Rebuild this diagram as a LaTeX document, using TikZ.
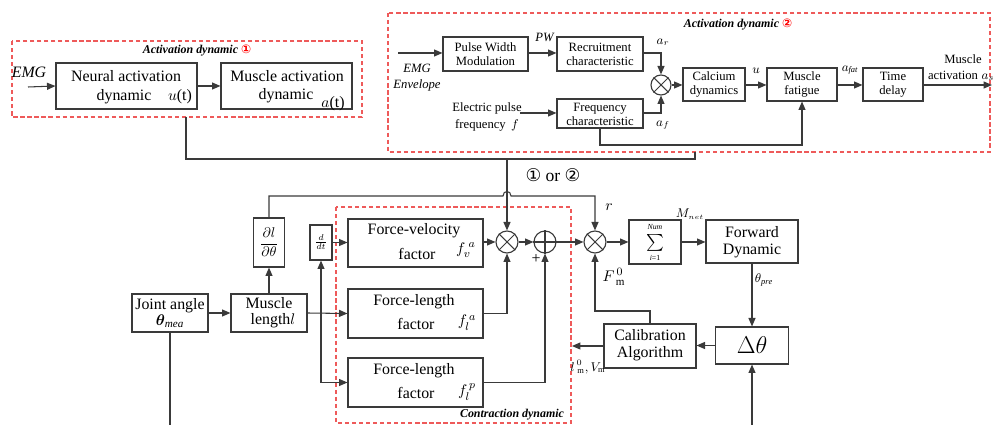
\documentclass[tikz,border=0pt]{standalone}
\usepackage{amsmath}
\usepackage{fontspec}
\setmainfont{Liberation Serif}
\newfontfamily\symfont{DejaVu Sans}
\usetikzlibrary{arrows.meta}
\definecolor{ln}{HTML}{3A3A3A}
\definecolor{dashred}{HTML}{EE5A5A}

\begin{document}
\begin{tikzpicture}[x=0.025cm,y=-0.025cm,
  line width=0.75pt, draw=ln,
  every node/.style={inner sep=0pt, text=black},
  sz/.style 2 args={minimum width=#1*0.025cm, minimum height=#2*0.025cm},
  blk/.style={draw=ln, line width=0.8pt, rectangle},
  mul/.style={circle, draw=ln, line width=0.8pt, minimum size=22*0.025cm},
  arr/.style={-{Triangle[length=6pt,width=5pt]}},
  region/.style={draw=dashred, line width=0.8pt, dash pattern=on 3pt off 2pt},
  big/.style={font=\fontsize{11.3}{12.3}\selectfont},
  small/.style={font=\fontsize{9}{10}\selectfont},
  ttl/.style={font=\fontsize{8.5}{9}\selectfont\bfseries\itshape},
  tiny/.style={font=\fontsize{5.5}{6}\selectfont}]
\useasboundingbox (0,0) rectangle (995,425);

% ---------- activation dynamic 1 ----------
\draw[region] (12,41) rectangle (362,117);
\node[ttl] at (197,51) {Activation dynamic {\symfont\color{red}①}};
\node[blk, sz={141}{46}] (neural) at (126.5,86) {};
\node[blk, sz={131}{46}] (macti) at (286.5,86) {};
\node[big] at (126,76) {Neural activation};
\node[big] at (124,97) {dynamic};
\node[big] at (180,97) {$u$(t)};
\node[big] at (287,76) {Muscle activation};
\node[big] at (286,96) {dynamic};
\node[big] at (333,104) {$a$(t)};
\node[big] at (29,72) {\textit{EMG}};
\coordinate (emgin) at (28,87);
\draw[arr] (emgin) -- (neural.west);
\draw[arr] (neural.east) -- (macti.west);

% ---------- activation dynamic 2 ----------
\draw[region] (388,13) rectangle (990,152);
\node[ttl] at (738,25) {Activation dynamic {\symfont\color{red}②}};
\node[blk, sz={85}{34}] (pwm) at (485.5,54) {};
\node[small, align=center] at (485.5,54) {Pulse Width\\Modulation};
\node[blk, sz={86}{34}] (recr) at (600,54) {};
\node[small, align=center] at (600,54) {Recruitment\\characteristic};
\node[blk, sz={86}{29}] (freq) at (600,113.5) {};
\node[small, align=center] at (600,114) {Frequency\\characteristic};
\node[mul, minimum size=20*0.025cm] (mt) at (661,85) {};
\draw (mt.north west) -- (mt.south east) (mt.north east) -- (mt.south west);
\node[blk, sz={62}{33}] (calc) at (714,84.5) {};
\node[small, align=center] at (714,84.5) {Calcium\\dynamics};
\node[blk, sz={70}{33}] (fatig) at (802,84.5) {};
\node[small, align=center] at (802,84.5) {Muscle\\fatigue};
\node[blk, sz={60}{33}] (tdel) at (893,84.5) {};
\node[small, align=center] at (893,84.5) {Time\\delay};

\node[small] at (417,68) {\textit{EMG}};
\node[small] at (417,85) {\textit{Envelope}};
\node[small] at (545,37) {\textit{PW}};
\node[small] at (663,42) {$a_r$};
\node[small] at (663,125) {$a_f$};
\node[small] at (756,71) {$u$};
\node[small] at (850,70) {$a_{\mathit{fat}}$};
\node[small] at (487,108) {Electric pulse};
\node[small] at (487,125) {frequency \,$f$};
\node[small] at (963,59) {Muscle};
\node[small] at (953,75) {activation};
\node[small] at (988,77) {$a_s$};

\coordinate (emgenv) at (398,53);
\coordinate (fin) at (520,113);
\coordinate (actout) at (992,85);
\coordinate (fq1) at (600,145);
\draw[arr] (emgenv) -- (pwm.west |- emgenv);
\draw[arr] (pwm.east |- emgenv) -- (recr.west |- emgenv);
\draw[arr] (recr.east |- emgenv) -| (mt.north);
\draw[arr] (fin) -- (freq.west |- fin);
\draw[arr] (freq.east |- fin) -| (mt.south);
\draw[arr] (mt.east) -- (calc.west |- mt.east);
\draw[arr] (calc.east |- mt.east) -- (fatig.west |- mt.east);
\draw[arr] (fatig.east |- mt.east) -- (tdel.west |- mt.east);
\draw[arr] (tdel.east |- mt.east) -- (actout);
\draw[arr] (freq.south) -- (fq1) -| (fatig.south);

% ---------- selector lines ----------
\coordinate (o1) at (186,117);
\coordinate (o2) at (695,152);
\coordinate (jn) at (507,159);
\node[font=\fontsize{12.5}{13}\selectfont] at (553,175) {{\symfont ①} or {\symfont ②}};

% ---------- muscle model ----------
\draw[region] (336,207) rectangle (571,423);
\node[ttl] at (512,415) {Contraction dynamic};

\node[blk, sz={76}{38}] (joint) at (170,313) {};
\node[big, align=center] at (170,313) {Joint angle\\[-1pt]$\boldsymbol{\theta}_{\mathit{mea}}$};
\node[blk, sz={76}{38}] (mlen) at (269,313) {};
\node[big, align=center] at (269,313) {Muscle\\[-1pt]\ \ length$l$};
\node[blk, sz={31}{49}] (dldth) at (269,242.5) {$\displaystyle\frac{\partial l}{\partial \theta}$};
\node[blk, sz={22}{35}, font=\fontsize{8}{8}\selectfont] (ddt) at (321,242.5) {$\frac{d}{dt}$};

\node[blk, sz={135}{48}] (fv) at (415.5,243) {};
\node[big] at (414,231) {Force-velocity};
\node[big] at (417,254) {factor};
\node[big] at (466,250) {$f_v^{\;a}$};
\node[blk, sz={135}{49}] (fla) at (415.5,313.5) {};
\node[big] at (414,302) {Force-length};
\node[big] at (416,324) {factor};
\node[big] at (467,323) {$f_l^{\,a}$};
\node[blk, sz={135}{49}] (flp) at (415.5,382.5) {};
\node[big] at (414,371) {Force-length};
\node[big] at (416,393) {factor};
\node[big] at (467,392) {$f_l^{\,p}$};

\node[mul] (m1) at (507,242) {};
\draw (m1.north west) -- (m1.south east) (m1.north east) -- (m1.south west);
\node[mul] (sum) at (545,242) {};
\draw (sum.north) -- (sum.south) (sum.west) -- (sum.east);
\node[mul] (m2) at (595,242) {};
\draw (m2.north west) -- (m2.south east) (m2.north east) -- (m2.south west);

\node[blk, sz={52}{44}] (sig) at (655,242) {};
\node[font=\fontsize{13}{13}\selectfont] at (655,243) {$\sum$};
\node[tiny] at (655,227) {\textit{Num}};
\node[tiny] at (655,258) {\textit{i}=1};
\node[blk, sz={92}{43}] (fd) at (752,241.5) {};
\node[big, align=center] at (752,242) {Forward\\Dynamic};
\node[blk, sz={73}{37}] (dth) at (752,345.5) {\fontsize{18}{18}\selectfont$\Delta\theta$};
\node[blk, sz={92}{44}] (cal) at (650,346) {};
\node[big, align=center] at (650,345) {Calibration\\Algorithm};

\node[big] at (536,259) {+};
\node[big] at (609,207) {$r$};
\node[big] at (614,277) {$F^{\,0}_{\;\mathrm{m}}$};
\node[small] at (690,214) {$M_{\scriptscriptstyle net}$};
\node[small] at (764,280) {$\theta_{\mathit{pre}}$};
\node[small] at (588,367) {$l^{\,0}_{\;\mathrm{m}},V_{\mathrm{m}}$};

\coordinate (br) at (321,313);
\coordinate (rtop) at (269,196);
\coordinate (calup) at (650,311);
\coordinate (calout) at (572,346);
\coordinate (jbot) at (170,425);
\coordinate (dbot) at (752,425);

% activation signal into the first multiplier
\draw (o1) |- (jn);
\draw (o2) |- (jn);
\draw[arr] (jn) -- (m1.north);
% moment arm r, hopping over the activation line
\draw[arr] (dldth.north) -- (rtop) -- (503,196) .. controls (503,190) and (511,190) .. (511,196) -| (m2.north);
\draw[arr] (mlen.north) -- (dldth.south);
\draw[arr] (joint.east) -- (mlen.west);
\draw[arr] (mlen.east) -- (fla.west);
\draw[arr] (br) -- (ddt.south);
\draw[arr] (br) |- (flp.west);
\draw[arr] (ddt.east) -- (fv.west |- ddt.east);
\draw[arr] (fv.east |- m1.west) -- (m1.west);
\draw[arr] (fla.east) -| (m1.south);
\draw[arr] (m1.east) -- (sum.west);
\draw[arr] (flp.east) -| (sum.south);
\draw[arr] (sum.east) -- (m2.west);
\draw[arr] (m2.east) -- (sig.west);
\draw[arr] (sig.east) -- (fd.west |- sig.east);
\draw[arr] (fd.south) -- (dth.north);
\draw[arr] (dbot) -- (dth.south);
\draw[arr] (dth.west) -- (cal.east |- dth.west);
\draw[arr] (cal.north) -- (calup) -| (m2.south);
\draw[arr] (cal.west |- calout) -- (calout);
\draw (joint.south) -- (jbot);
\end{tikzpicture}
\end{document}
